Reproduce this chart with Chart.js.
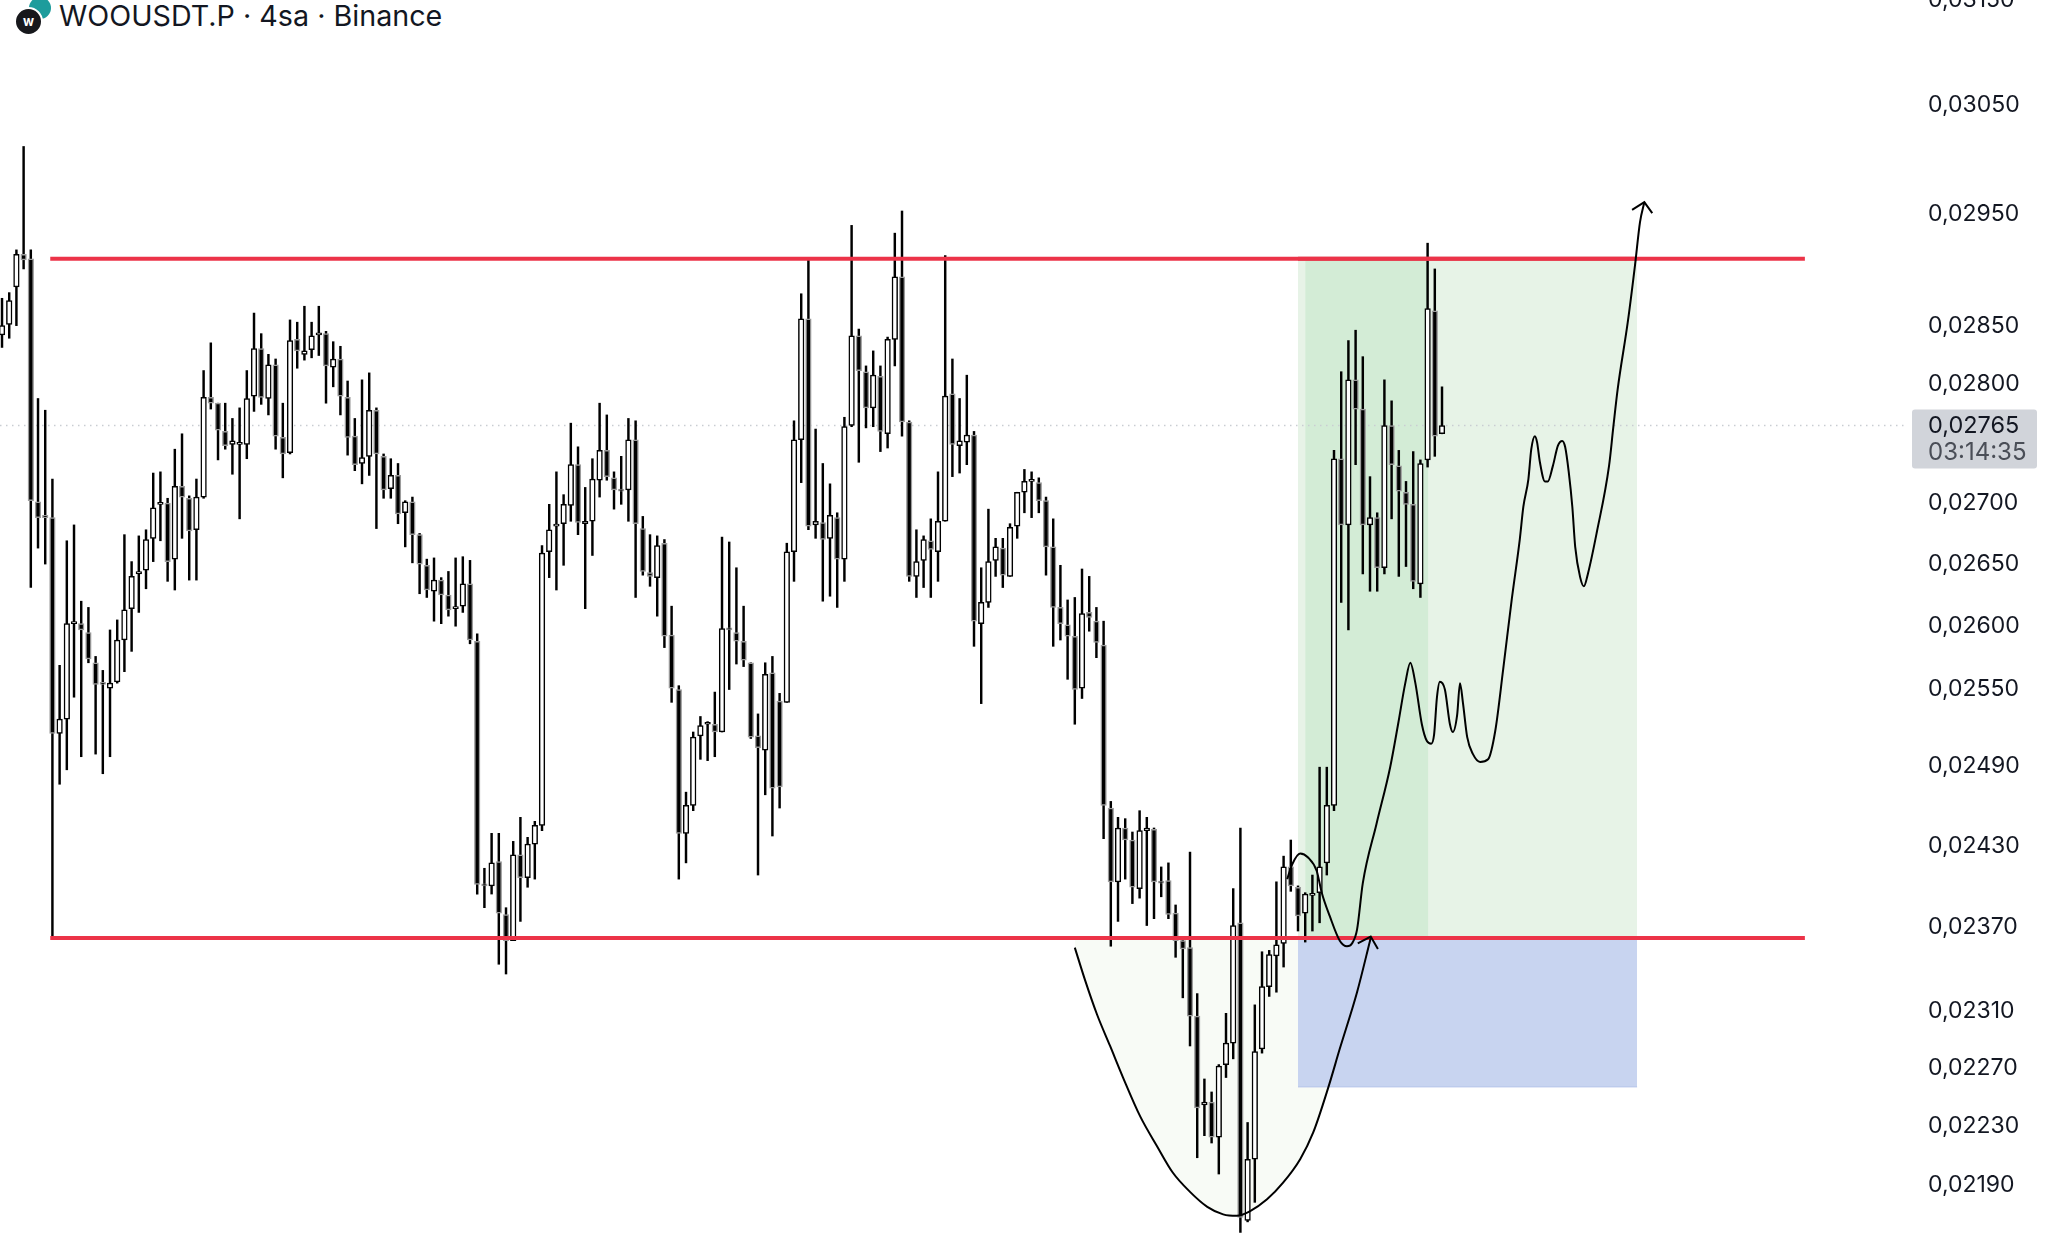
<!DOCTYPE html>
<html>
<head>
<meta charset="utf-8">
<title>WOOUSDT.P</title>
<script src="https://cdn.jsdelivr.net/npm/chart.js@4"></script>
<style>
  html, body { margin: 0; padding: 0; background: #fff; overflow: hidden; width: 2047px; height: 1234px; }
  #chartCandles { position: absolute; left: 0; top: -30px; }
  #header { position: absolute; left: 59px; top: -1px; font: 28.7px Inter, sans-serif; line-height: 34px; color: #131722; white-space: nowrap; }
  .coin { position: absolute; border-radius: 50%; }
  #coinBack { left: 29px; top: -3px; width: 22px; height: 22px; background: #1d9c9c; }
  #coinFront { left: 14px; top: 7px; width: 25px; height: 25px; background: #17181c; border: 2px solid #fff; color: #fff; font: bold 13px Inter, sans-serif; line-height: 25px; text-align: center; }
</style>
</head>
<body>
<div class="coin" id="coinBack"></div>
<div class="coin" id="coinFront">w</div>
<div id="header">WOOUSDT.P · 4sa · Binance</div>
<canvas id="chartCandles" width="2047" height="1294"></canvas>
<script>
// candle prices, in units of 0.00001
const opens = [2841,2850,2883,2912,2908,2699,2688,2686,2514,2525,2600,2600,2593,2569,2553,2549,2554,2587,2612,2640,
  2643,2669,2697,2698,2652,2712,2702,2676,2703,2787,2782,2758,2747,2747,2747,2788,2829,2786,2815,2753,
  2740,2837,2824,2828,2841,2842,2813,2820,2787,2754,2731,2737,2776,2737,2710,2721,2690,2699,2672,2647,
  2626,2635,2623,2612,2614,2632,2586,2400,2399,2417,2378,2359,2422,2405,2430,2444,2658,2679,2681,2696,
  2730,2681,2683,2717,2742,2719,2709,2709,2751,2677,2641,2637,2665,2591,2548,2438,2459,2512,2521,2521,
  2515,2596,2593,2586,2569,2512,2501,2561,2539,2538,2658,2751,2855,2680,2682,2669,2686,2652,2763,2840,
  2809,2778,2805,2756,2837,2892,2766,2638,2651,2667,2658,2683,2790,2746,2749,2755,2600,2617,2651,2661,
  2638,2679,2707,2716,2715,2700,2662,2613,2599,2590,2549,2609,2602,2583,2457,2402,2442,2433,2397,2440,
  2441,2402,2403,2379,2359,2354,2305,2243,2245,2221,2271,2286,2372,2165,2206,2282,2326,2348,2357,2413,
  2398,2379,2392,2394,2416,2459,2735,2680,2802,2777,2680,2686,2645,2763,2729,2707,2697,2632,2734,2862,2756];
const closes = [2849,2871,2912,2907,2700,2686,2686,2514,2525,2600,2601,2595,2572,2552,2552,2553,2587,2611,2638,2642,
  2668,2694,2698,2650,2712,2703,2675,2703,2787,2782,2759,2746,2750,2748,2786,2829,2787,2815,2754,2739,
  2836,2827,2827,2840,2842,2814,2820,2788,2753,2730,2736,2776,2739,2709,2721,2689,2699,2672,2648,2627,
  2635,2623,2611,2613,2632,2587,2400,2399,2416,2379,2359,2422,2405,2430,2444,2657,2676,2680,2697,2730,
  2682,2683,2718,2742,2720,2709,2708,2751,2681,2642,2638,2663,2590,2549,2438,2459,2511,2520,2522,2515,
  2596,2595,2586,2571,2511,2503,2560,2472,2473,2658,2751,2855,2679,2683,2668,2688,2652,2762,2840,2810,
  2778,2806,2758,2837,2892,2766,2638,2650,2668,2660,2683,2788,2747,2750,2755,2602,2617,2650,2662,2639,
  2678,2707,2716,2717,2700,2662,2613,2600,2590,2548,2608,2605,2585,2459,2402,2442,2433,2398,2440,2442,
  2402,2401,2378,2359,2353,2305,2241,2245,2221,2270,2286,2370,2167,2206,2280,2326,2349,2356,2413,2399,
  2377,2393,2393,2413,2459,2735,2680,2802,2777,2680,2686,2645,2763,2730,2708,2697,2634,2731,2864,2754,2763];
const highs = [2873,2878,2916,3010,2916,2786,2776,2718,2567,2667,2680,2618,2613,2574,2563,2595,2603,2672,2650,2671,
  2676,2723,2724,2702,2743,2756,2704,2718,2810,2834,2782,2782,2769,2778,2810,2860,2842,2824,2820,2782,
  2854,2852,2866,2852,2866,2844,2835,2831,2801,2769,2802,2808,2778,2739,2735,2731,2700,2703,2673,2652,
  2653,2637,2642,2653,2654,2651,2592,2412,2438,2438,2383,2432,2450,2435,2447,2663,2697,2724,2705,2765,
  2745,2711,2735,2782,2772,2724,2737,2769,2767,2687,2672,2671,2668,2614,2551,2469,2515,2527,2523,2546,
  2670,2666,2645,2614,2569,2529,2569,2574,2545,2665,2767,2877,2907,2760,2731,2714,2690,2770,2938,2846,
  2814,2827,2814,2839,2931,2951,2767,2676,2671,2685,2724,2911,2820,2786,2806,2758,2645,2693,2669,2669,
  2681,2707,2726,2724,2719,2703,2685,2647,2619,2621,2644,2638,2613,2602,2462,2450,2449,2439,2455,2450,
  2442,2413,2416,2385,2362,2424,2321,2261,2252,2271,2307,2397,2442,2231,2313,2351,2352,2402,2421,2433,
  2399,2394,2407,2488,2488,2742,2809,2836,2845,2822,2720,2690,2802,2784,2742,2716,2741,2734,2922,2899,2796];
const lows = [2830,2838,2849,2899,2629,2661,2648,2362,2475,2486,2542,2496,2569,2498,2483,2496,2553,2562,2578,2609,
  2628,2650,2667,2634,2627,2669,2635,2635,2702,2777,2734,2743,2722,2685,2735,2775,2781,2772,2743,2719,
  2739,2812,2819,2821,2823,2782,2796,2772,2738,2725,2714,2721,2677,2702,2702,2681,2662,2649,2624,2621,
  2602,2600,2606,2598,2609,2584,2393,2383,2393,2342,2335,2359,2373,2398,2404,2440,2637,2627,2647,2683,
  2672,2612,2655,2703,2717,2693,2697,2683,2621,2639,2630,2606,2581,2538,2404,2416,2455,2494,2493,2496,
  2515,2548,2568,2566,2510,2407,2467,2436,2457,2538,2634,2715,2676,2669,2618,2622,2613,2634,2762,2732,
  2761,2762,2741,2744,2814,2754,2634,2621,2629,2621,2634,2683,2720,2723,2730,2582,2537,2613,2638,2629,
  2638,2669,2690,2686,2690,2639,2582,2587,2556,2521,2541,2594,2573,2434,2355,2373,2404,2386,2390,2370,
  2375,2391,2375,2347,2318,2284,2207,2222,2217,2196,2262,2275,2157,2164,2177,2279,2319,2322,2340,2395,
  2366,2358,2366,2372,2407,2455,2617,2595,2730,2640,2626,2626,2640,2685,2638,2646,2628,2621,2728,2737,2756];

// price axis labels and levels
const tickValues = [0.0315,0.0305,0.0295,0.0285,0.028,0.027,0.0265,0.026,0.0255,0.0249,0.0243,0.0237,0.0231,0.0227,0.0223,0.0219];
const resistance = 2908;
const support = 2361;
const lastPrice = 2763;
const lastLabel = "0,02765";
const countdown = "03:14:35";

// hand drawn curves: bar index + price
const bowlX = [149,150.4,152.1,153.9,155.7,158.1,160.4,162.6,165,167.4,169.6,171.5,173.3,175.7,177.9,180.3,182.1,184.2,185.8,188.2,190.1];
const bowlY = [2354,2331,2306,2284,2262,2235,2215,2197,2184,2174,2169,2168,2171,2179,2190,2206,2224,2255,2282,2322,2361];
const bowlHeadX = [188.3,190.1,191.1];
const bowlHeadY = [2357,2362,2353];
const pathX = [178.5,179.2,180.3,181.4,182.6,183.3,184.4,185.8,186.8,187.5,188.2,189,190.9,192.8,193.9,194.9,195.6,196.3,197.2,197.9,198.5,198.9,199.3,199.7,200.4,201.1,201.5,202.1,202.5,202.9,203.5,204.3,205.3,206.4,207.4,208.5,209.7,210.8,211.3,212,212.4,212.9,213.2,213.6,214.3,214.7,215.4,216.1,216.7,217.1,217.6,218.1,218.5,219.2,219.7,220.3,221.5,223.2,223.8,224.4,225.8,226.8,227.5,228.1];
const pathY = [2404,2415,2423,2420,2410,2394,2377,2359,2355,2357,2367,2401,2445,2488,2521,2553,2569,2553,2521,2508,2506,2513,2542,2554,2548,2521,2515,2528,2553,2538,2511,2498,2492,2494,2516,2564,2620,2668,2695,2718,2743,2754,2749,2732,2716,2716,2729,2746,2750,2745,2724,2695,2662,2637,2630,2641,2674,2729,2762,2794,2852,2902,2941,2959];
const pathHeadX = [226.4,228.1,229.2];
const pathHeadY = [2952,2959,2949];

// zones, bar index
const levelFrom = 6.7, levelTo = 250.4;
const zoneFrom = 180, zoneTo = 227.1, darkFrom = 181, darkTo = 198.1;
const stopPrice = 2255.5;
const xMin = -0.28, xMax = 265;

const unit = v => v / 100000;
const pts = (xs, ys) => xs.map((x, i) => ({ x: x, y: unit(ys[i]) }));

function lineSet(data, color, width, order, extra) {
  return Object.assign({
    type: "line", data: data, borderColor: color, borderWidth: width,
    pointRadius: 0, tension: 0, fill: false, order: order
  }, extra || {});
}

const priceTag = {
  id: "priceTag",
  afterDraw(chart) {
    const c = chart.ctx, y = chart.scales.y.getPixelForValue(unit(lastPrice));
    c.save();
    c.fillStyle = "#d1d4da";
    c.beginPath();
    c.roundRect(1912, y - 16, 125, 59, 3);
    c.fill();
    c.textBaseline = "middle";
    c.textAlign = "left";
    c.font = "23.5px Inter, sans-serif";
    c.fillStyle = "#131722";
    c.fillText(lastLabel, 1928, y + 0.5);
    c.fillStyle = "#4a4e57";
    c.font = "24px Inter, sans-serif";
    c.fillText(countdown, 1928, y + 27.5);
    c.restore();
  }
};

new Chart(document.getElementById("chartCandles").getContext("2d"), {
  type: "bar",
  data: {
    datasets: [
      // bodies
      {
        data: opens.map((o, i) => ({ x: i, y: [unit(o), unit(closes[i])] })),
        barThickness: 5.6,
        minBarLength: 2,
        grouped: false,
        borderWidth: 1.5,
        borderSkipped: false,
        backgroundColor: opens.map((o, i) => closes[i] >= o ? "#ffffff" : "#000000"),
        borderColor: opens.map((o, i) => closes[i] >= o ? "#000000" : "#9b9b9b"),
        order: 4
      },
      // wicks
      {
        data: highs.map((h, i) => ({ x: i, y: [unit(lows[i]), unit(h)] })),
        barThickness: 1.8,
        grouped: false,
        backgroundColor: "#000000",
        order: 5
      },
      // curves
      lineSet(pts(pathX, pathY), "#000000", 2, 1, { cubicInterpolationMode: "monotone" }),
      lineSet(pts(pathHeadX, pathHeadY), "#000000", 2, 1),
      lineSet(pts(bowlX, bowlY), "#000000", 2, 1, { cubicInterpolationMode: "monotone" }),
      lineSet(pts(bowlHeadX, bowlHeadY), "#000000", 2, 1),
      // levels
      lineSet(pts([levelFrom, levelTo], [resistance, resistance]), "#ec3348", 4, 2),
      lineSet(pts([levelFrom, levelTo], [support, support]), "#ec3348", 4, 2),
      lineSet(pts([zoneFrom, zoneTo], [resistance, resistance]), "#cf4f58", 4, 2),
      lineSet(pts([zoneFrom, zoneTo], [support, support]), "#b8406a", 4, 2),
      // last price line
      lineSet(pts([xMin, 264.2], [lastPrice, lastPrice]), "#c9cdd2", 1.5, 6, { borderDash: [1.5, 4.5] }),
      // zones
      lineSet(pts([darkFrom, darkTo], [support, support]), "rgba(0,0,0,0)", 0, 7, { fill: { value: unit(resistance) }, backgroundColor: "#d3ecd6" }),
      lineSet(pts([zoneFrom, zoneTo], [support, support]), "rgba(0,0,0,0)", 0, 8, { fill: { value: unit(resistance) }, backgroundColor: "#e7f3e7" }),
      lineSet(pts([zoneFrom, zoneTo], [stopPrice, stopPrice]), "#b7c5ea", 1, 8, { fill: { value: unit(support) }, backgroundColor: "#c8d4f0" }),
      lineSet(pts(bowlX, bowlY), "rgba(0,0,0,0)", 0, 9, { cubicInterpolationMode: "monotone", fill: { value: unit(support) }, backgroundColor: "#f8fbf6" })
    ]
  },
  options: {
    responsive: false,
    animation: false,
    layout: { padding: 0 },
    plugins: { legend: { display: false }, tooltip: { enabled: false } },
    scales: {
      x: { type: "linear", display: false, min: xMin, max: xMax, offset: false, grid: { display: false } },
      y: {
        type: "logarithmic",
        position: "right",
        min: 0.021362,
        max: 0.031775,
        bounds: "data",
        grid: { display: false },
        border: { display: false },
        afterBuildTicks: axis => { axis.ticks = tickValues.map(v => ({ value: v })); },
        afterFit: axis => { axis.width = 137; axis.paddingTop = 0; axis.paddingBottom = 0; },
        ticks: {
          autoSkip: false,
          padding: 10,
          labelOffset: 2,
          color: "#131722",
          font: { family: "Inter, sans-serif", size: 23 },
          callback: v => v.toFixed(5).replace(".", ",")
        }
      }
    }
  },
  plugins: [priceTag]
});
</script>
</body>
</html>
